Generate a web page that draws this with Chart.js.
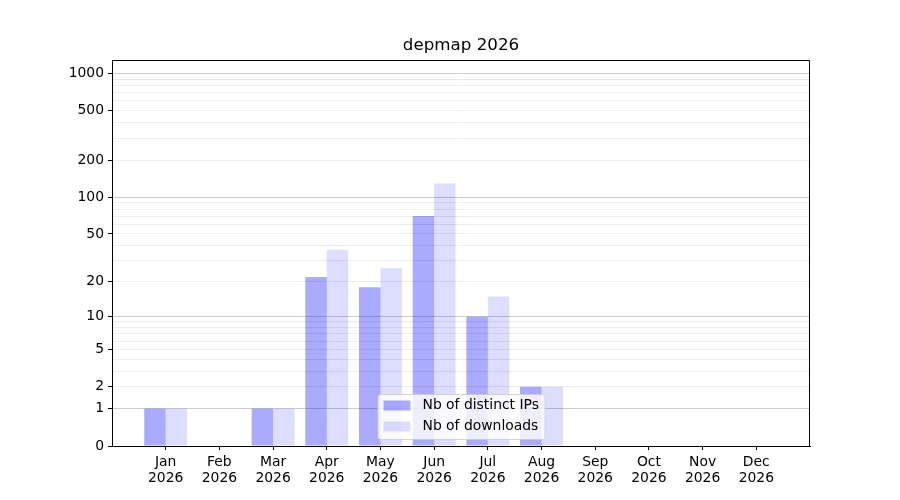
<!DOCTYPE html>
<html>
<head>
<meta charset="utf-8">
<script src="https://cdn.jsdelivr.net/npm/chart.js@4/dist/chart.umd.min.js"></script>
<style>
  html, body { margin: 0; padding: 0; background: #fff; }
</style>
</head>
<body>
<canvas id="myChart" width="900" height="500"></canvas>
<script>
const months = ['Jan', 'Feb', 'Mar', 'Apr', 'May', 'Jun', 'Jul', 'Aug', 'Sep', 'Oct', 'Nov', 'Dec'];
const year = '2026';
const distinctIps = [1, 0, 1, 22, 18, 70, 10, 2, 0, 0, 0, 0];
const downloads = [1, 0, 1, 37, 26, 129, 15, 2, 0, 0, 0, 0];
const yLabelTicks = [0, 1, 2, 5, 10, 20, 50, 100, 200, 500, 1000];
const yMinorTicks = [3, 4, 6, 7, 8, 9, 30, 40, 60, 70, 80, 90, 300, 400, 600, 700, 800, 900];
const yDecades = [1, 10, 100, 1000];
const yTop = 1283;
const title = 'depmap 2026';
const seriesNames = ['Nb of distinct IPs', 'Nb of downloads'];

const FONT = '"DejaVu Sans", sans-serif';
Chart.defaults.font.family = FONT;
Chart.defaults.color = '#000';

// log10(1 + v) so that 0 can sit on the axis
function tr(v) { return Math.log10(1 + v); }

const allYTicks = yLabelTicks.concat(yMinorTicks).sort((a, b) => a - b);

const colors = ['rgba(0,0,255,0.333)', 'rgba(0,0,255,0.133)'];

const extras = {
  id: 'extras',
  afterDraw(chart) {
    const ctx = chart.ctx;
    const a = chart.chartArea;
    ctx.save();
    // frame top / right
    ctx.strokeStyle = '#000';
    ctx.lineWidth = 1;
    ctx.beginPath();
    ctx.moveTo(Math.round(a.left) + 0.5, Math.round(a.top) + 0.5);
    ctx.lineTo(Math.round(a.right) - 0.5, Math.round(a.top) + 0.5);
    ctx.lineTo(Math.round(a.right) - 0.5, Math.round(a.bottom));
    ctx.stroke();

    // title
    const cx = (a.left + a.right) / 2;
    ctx.fillStyle = '#000';
    ctx.font = '16.7px ' + FONT;
    ctx.textAlign = 'center';
    ctx.textBaseline = 'middle';
    ctx.fillText(title, cx, a.top - 14);

    // legend, lower center
    const w = 167, h = 45;
    const lx = cx - w / 2, ly = a.bottom - 7 - h;
    ctx.beginPath();
    ctx.roundRect(lx + 0.5, ly + 0.5, w, h, 3);
    ctx.fillStyle = 'rgba(255,255,255,0.8)';
    ctx.fill();
    ctx.strokeStyle = 'rgba(204,204,204,0.8)';
    ctx.stroke();
    ctx.font = '13.9px ' + FONT;
    ctx.textAlign = 'left';
    seriesNames.forEach((name, i) => {
      const ry = ly + 6.5 + i * 21;
      ctx.fillStyle = colors[i];
      ctx.fillRect(lx + 6, ry, 27, 10);
      ctx.fillStyle = '#000';
      ctx.fillText(name, lx + 45, ry + 5);
    });
    ctx.restore();
  }
};

new Chart(document.getElementById('myChart'), {
  type: 'bar',
  data: {
    datasets: [
      {
        label: seriesNames[0],
        data: months.map((m, i) => ({ x: i + 1, y: tr(distinctIps[i]) })),
        backgroundColor: colors[0],
        borderWidth: 0
      },
      {
        label: seriesNames[1],
        data: months.map((m, i) => ({ x: i + 1, y: tr(downloads[i]) })),
        backgroundColor: colors[1],
        borderWidth: 0
      }
    ]
  },
  options: {
    responsive: false,
    animation: false,
    devicePixelRatio: 1,
    categoryPercentage: 0.8,
    barPercentage: 1,
    layout: { padding: { top: 60, right: 90, left: 0, bottom: 0 } },
    plugins: {
      legend: { display: false },
      tooltip: { enabled: false },
      title: { display: false }
    },
    scales: {
      x: {
        type: 'linear',
        min: 0,
        max: 13,
        offset: false,
        afterBuildTicks: (scale) => { scale.ticks = months.map((m, i) => ({ value: i + 1 })); },
        afterFit: (scale) => { scale.height = 54; },
        ticks: {
          autoSkip: false,
          maxRotation: 0,
          padding: 4.5,
          font: { size: 13.9, lineHeight: 1.15 },
          callback: (v) => [months[v - 1], year]
        },
        grid: { offset: false, drawOnChartArea: false, drawTicks: true, tickLength: 4, tickColor: '#000' },
        border: { color: '#000', width: 1 }
      },
      y: {
        type: 'linear',
        min: 0,
        max: tr(yTop),
        afterBuildTicks: (scale) => { scale.ticks = allYTicks.map(v => ({ value: tr(v), raw: v })); },
        afterFit: (scale) => { scale.width = 112; },
        ticks: {
          autoSkip: false,
          padding: 4,
          font: { size: 13.9 },
          callback: (v, i, ticks) => yLabelTicks.includes(ticks[i].raw) ? String(ticks[i].raw) : ''
        },
        grid: {
          tickLength: 4,
          color: (c) => {
            const r = c.tick ? c.tick.raw : null;
            if (r === 0) return 'rgba(0,0,0,0)';
            return yDecades.includes(r) ? 'rgb(204,204,204)' : 'rgb(235,235,235)';
          },
          tickColor: (c) => (c.tick && yLabelTicks.includes(c.tick.raw)) ? '#000' : 'rgba(0,0,0,0)'
        },
        border: { color: '#000', width: 1 }
      }
    }
  },
  plugins: [extras]
});
</script>
</body>
</html>
